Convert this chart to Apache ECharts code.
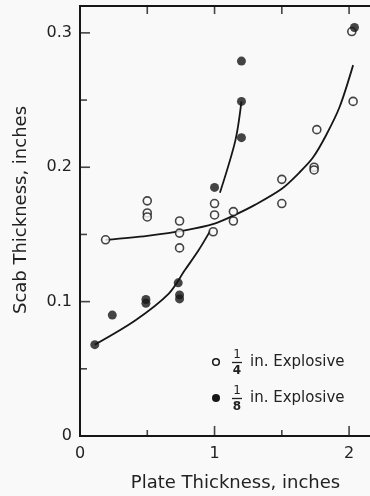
<!DOCTYPE html>
<html>
<head>
<meta charset="utf-8">
<script src="https://cdn.jsdelivr.net/npm/echarts@6/dist/echarts.min.js"></script>
<style>
html,body{margin:0;padding:0;background:#f9f9f9;}
#chart{width:370px;height:496px;}
</style>
</head>
<body>
<div id="chart"></div>
<script>
// 1/4 in. explosive (open circles)
const openX = [0.19, 0.50, 0.50, 0.50, 0.74, 0.74, 0.74, 0.99, 1.00, 1.00, 1.14, 1.14, 1.50, 1.50, 1.76, 1.74, 1.74, 2.03, 2.02];
const openY = [0.146, 0.175, 0.166, 0.163, 0.160, 0.151, 0.140, 0.152, 0.173, 0.1645, 0.167, 0.160, 0.191, 0.173, 0.228, 0.200, 0.198, 0.249, 0.301];
// 1/8 in. explosive (filled circles)
const filledX = [0.11, 0.24, 0.49, 0.49, 0.73, 0.74, 0.74, 1.00, 1.20, 1.20, 1.20, 2.04];
const filledY = [0.068, 0.090, 0.1016, 0.0987, 0.114, 0.105, 0.102, 0.185, 0.279, 0.249, 0.222, 0.304];
// fitted curves
const openFitX = [0.19, 0.50, 0.78, 1.00, 1.14, 1.30, 1.50, 1.63, 1.73, 1.83, 1.93, 2.03];
const openFitY = [0.146, 0.149, 0.153, 0.158, 0.164, 0.172, 0.184, 0.196, 0.207, 0.224, 0.245, 0.276];
const filledFitX = [0.11, 0.41, 0.66, 0.78, 0.88, 0.97, null, 1.04, 1.155, 1.20];
const filledFitY = [0.068, 0.086, 0.106, 0.1235, 0.138, 0.153, null, 0.181, 0.220, 0.249];
// tick labels and tick values
const xTickLabels = ['0', '1', '2'];
const yTickLabels = ['0', '0.1', '0.2', '0.3'];
const xMajorTicks = [1, 2];
const xMinorTicks = [0.5, 1.5];
const xTopTicks = [0.5, 1, 1.5, 2];
const yMajorTicks = [0.1, 0.2, 0.3];
const yMinorTicks = [0.05, 0.15, 0.25];
const yRightTicks = [0.05, 0.1, 0.15, 0.2, 0.25, 0.3];

const ink = '#161616';
const bg = '#f9f9f9';
const font = 'DejaVu Sans';
const X_MAX = 2.2, Y_MAX = 0.32;

function pairs(xs, ys) {
  return xs.map((x, i) => (x === null ? '-' : [x, ys[i]]));
}

// inward tick marks drawn as thin rect symbols placed through the axes' scales
function tickSeries(data, size, offset) {
  return {
    type: 'scatter', data: data, symbol: 'rect', symbolSize: size, symbolOffset: offset,
    itemStyle: {color: ink}, silent: true, clip: false, z: 6, animation: false
  };
}

const chart = echarts.init(document.getElementById('chart'), null, {renderer: 'canvas'});

const option = {
  backgroundColor: bg,
  animation: false,
  grid: {left: 80, top: 6, width: 296, height: 430, containLabel: false, outerBoundsMode: 'none',
         show: true, borderColor: ink, borderWidth: 2, backgroundColor: 'transparent'},
  xAxis: {
    type: 'value', position: 'bottom', min: 0, max: X_MAX, interval: 1,
    axisLine: {show: true, lineStyle: {color: ink, width: 2}},
    axisTick: {show: false},
    axisLabel: {show: true, margin: 10, fontFamily: font, fontSize: 16, color: '#222', showMaxLabel: false,
      formatter: v => { const i = Math.round(v); return Math.abs(v - i) < 1e-6 && i < xTickLabels.length ? xTickLabels[i] : ''; }},
    splitLine: {show: false},
    name: 'Plate Thickness, inches', nameLocation: 'middle', nameGap: 38,
    nameTextStyle: {fontFamily: font, fontSize: 18, color: '#222', padding: [0, 0, 0, 15]}
  },
  yAxis: {
    type: 'value', position: 'left', min: 0, max: Y_MAX, interval: 0.1,
    axisLine: {show: true, lineStyle: {color: ink, width: 2}},
    axisTick: {show: false},
    axisLabel: {show: true, margin: 8, fontFamily: font, fontSize: 16, color: '#222', showMaxLabel: false,
      formatter: v => { const i = Math.round(v * 10); return Math.abs(v * 10 - i) < 1e-6 && i < yTickLabels.length ? yTickLabels[i] : ''; }},
    splitLine: {show: false},
    name: 'Scab Thickness, inches', nameLocation: 'middle', nameGap: 50, nameRotate: 90,
    nameTextStyle: {fontFamily: font, fontSize: 18, color: '#222', padding: [0, 0, 0, 22]}
  },
  series: [
    tickSeries(xMajorTicks.map(v => [v, 0]), [1.6, 10], [0, -5]),
    tickSeries(xMinorTicks.map(v => [v, 0]), [1.6, 6], [0, -3]),
    tickSeries(xTopTicks.map(v => [v, Y_MAX]), [1.6, 8], [0, 4]),
    tickSeries(yMajorTicks.map(v => [0, v]), [10, 1.6], [5, 0]),
    tickSeries(yMinorTicks.map(v => [0, v]), [7, 1.6], [3.5, 0]),
    tickSeries(yRightTicks.map(v => [X_MAX, v]), [6, 1.6], [-3, 0]),
    {
      name: 'openFit', type: 'line',
      data: pairs(openFitX, openFitY), smooth: 0.3, symbol: 'none',
      lineStyle: {color: ink, width: 1.8}, z: 2
    },
    {
      name: 'filledFit', type: 'line',
      data: pairs(filledFitX, filledFitY), smooth: 0.3, symbol: 'none', connectNulls: false,
      lineStyle: {color: ink, width: 1.8}, z: 2
    },
    {
      name: '1/4 in. Explosive', type: 'scatter',
      data: pairs(openX, openY), symbol: 'circle', symbolSize: 8,
      itemStyle: {color: bg, borderColor: ink, borderWidth: 1.6}, z: 3
    },
    {
      name: '1/8 in. Explosive', type: 'scatter',
      data: pairs(filledX, filledY), symbol: 'circle', symbolSize: 9,
      itemStyle: {color: ink}, z: 4
    }
  ],
  graphic: [
    {type: 'circle', shape: {cx: 216, cy: 362, r: 3.3}, style: {fill: bg, stroke: ink, lineWidth: 1.5}},
    {type: 'text', x: 237, y: 355, style: {text: '1', fontFamily: font, fontSize: 12, fill: '#222', align: 'center', verticalAlign: 'middle'}},
    {type: 'line', shape: {x1: 232, y1: 362.5, x2: 242, y2: 362.5}, style: {stroke: '#222', lineWidth: 1.3}},
    {type: 'text', x: 237, y: 370.5, style: {text: '4', fontFamily: font, fontSize: 12, fontWeight: 'bold', fill: '#222', align: 'center', verticalAlign: 'middle'}},
    {type: 'text', x: 250, y: 362, style: {text: 'in. Explosive', fontFamily: font, fontSize: 15, fill: '#222', align: 'left', verticalAlign: 'middle'}},
    {type: 'circle', shape: {cx: 216, cy: 398, r: 4}, style: {fill: ink}},
    {type: 'text', x: 237, y: 391, style: {text: '1', fontFamily: font, fontSize: 12, fill: '#222', align: 'center', verticalAlign: 'middle'}},
    {type: 'line', shape: {x1: 232, y1: 398.5, x2: 242, y2: 398.5}, style: {stroke: '#222', lineWidth: 1.3}},
    {type: 'text', x: 237, y: 406.5, style: {text: '8', fontFamily: font, fontSize: 12, fontWeight: 'bold', fill: '#222', align: 'center', verticalAlign: 'middle'}},
    {type: 'text', x: 250, y: 398, style: {text: 'in. Explosive', fontFamily: font, fontSize: 15, fill: '#222', align: 'left', verticalAlign: 'middle'}}
  ]
};
chart.setOption(option);
</script>
</body>
</html>
